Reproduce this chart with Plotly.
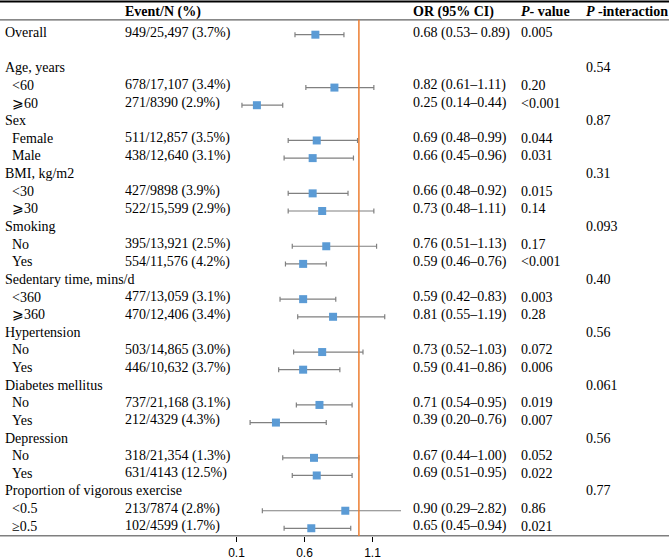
import plotly.graph_objects as go

# ---------------- data ----------------
labels = ["Overall", "", "Age, years", "<60", "⩾60", "Sex", "Female", "Male",
          "BMI, kg/m2", "<30", "⩾30", "Smoking", "No", "Yes",
          "Sedentary time, mins/d", "<360", "⩾360", "Hypertension", "No", "Yes",
          "Diabetes mellitus", "No", "Yes", "Depression", "No", "Yes",
          "Proportion of vigorous exercise", "<0.5", "≥0.5"]
is_sub = [False, False, False, True, True, False, True, True,
          False, True, True, False, True, True,
          False, True, True, False, True, True,
          False, True, True, False, True, True,
          False, True, True]
events = ["949/25,497 (3.7%)", "", "", "678/17,107 (3.4%)", "271/8390 (2.9%)", "",
          "511/12,857 (3.5%)", "438/12,640 (3.1%)", "", "427/9898 (3.9%)",
          "522/15,599 (2.9%)", "", "395/13,921 (2.5%)", "554/11,576 (4.2%)", "",
          "477/13,059 (3.1%)", "470/12,406 (3.4%)", "", "503/14,865 (3.0%)",
          "446/10,632 (3.7%)", "", "737/21,168 (3.1%)", "212/4329 (4.3%)", "",
          "318/21,354 (1.3%)", "631/4143 (12.5%)", "", "213/7874 (2.8%)",
          "102/4599 (1.7%)"]
or_val = [0.68, None, None, 0.82, 0.25, None, 0.69, 0.66, None, 0.66, 0.73, None,
          0.76, 0.59, None, 0.59, 0.81, None, 0.73, 0.59, None, 0.71, 0.39, None,
          0.67, 0.69, None, 0.90, 0.65]
ci_lo = [0.53, None, None, 0.61, 0.14, None, 0.48, 0.45, None, 0.48, 0.48, None,
         0.51, 0.46, None, 0.42, 0.55, None, 0.52, 0.41, None, 0.54, 0.20, None,
         0.44, 0.51, None, 0.29, 0.45]
ci_hi = [0.89, None, None, 1.11, 0.44, None, 0.99, 0.96, None, 0.92, 1.11, None,
         1.13, 0.76, None, 0.83, 1.19, None, 1.03, 0.86, None, 0.95, 0.76, None,
         1.00, 0.95, None, 2.82, 0.94]
or_text = ["0.68 (0.53– 0.89)", "", "", "0.82 (0.61–1.11)", "0.25 (0.14–0.44)", "",
           "0.69 (0.48–0.99)", "0.66 (0.45–0.96)", "", "0.66 (0.48–0.92)",
           "0.73 (0.48–1.11)", "", "0.76 (0.51–1.13)", "0.59 (0.46–0.76)", "",
           "0.59 (0.42–0.83)", "0.81 (0.55–1.19)", "", "0.73 (0.52–1.03)",
           "0.59 (0.41–0.86)", "", "0.71 (0.54–0.95)", "0.39 (0.20–0.76)", "",
           "0.67 (0.44–1.00)", "0.69 (0.51–0.95)", "", "0.90 (0.29–2.82)",
           "0.65 (0.45–0.94)"]
p_value = ["0.005", "", "", "0.20", "<0.001", "", "0.044", "0.031", "", "0.015",
           "0.14", "", "0.17", "<0.001", "", "0.003", "0.28", "", "0.072", "0.006",
           "", "0.019", "0.007", "", "0.052", "0.022", "", "0.86", "0.021"]
p_inter = ["", "", "0.54", "", "", "0.87", "", "", "0.31", "", "", "0.093", "", "",
           "0.40", "", "", "0.56", "", "", "0.061", "", "", "0.56", "", "", "0.77",
           "", ""]
headers = ["Event/N (%)", "OR (95% CI)", "<i>P</i>- value", "<i>P</i> -interaction"]
tick_vals = [0.1, 0.6, 1.1]

# ---------------- layout helpers ----------------
W, H = 669, 560
ROW0, ROWH = 35.0, 17.79          # pixel centre of first row, row height
BOTTOM = 541.0                     # pixel of table bottom line
def row_of(px):
    return (px - ROW0) / ROWH

y_top = row_of(0)
y_bot = row_of(BOTTOM)
FONT = "Liberation Serif"
FS = 14

pts = [i for i, v in enumerate(or_val) if v is not None]
fig = go.Figure()
fig.add_trace(go.Scatter(
    x=[or_val[i] for i in pts], y=[i for i in pts], mode="markers",
    marker=dict(symbol="square", size=8, color="#5B9BD5"),
    error_x=dict(type="data", symmetric=False,
                 array=[ci_hi[i] - or_val[i] for i in pts],
                 arrayminus=[or_val[i] - ci_lo[i] for i in pts],
                 color="#808080", thickness=1.2, width=2.5),
    showlegend=False, hoverinfo="skip"))

ann = []
def px2paper(px):
    return px / W

for i, lab in enumerate(labels):
    yy = i - 0.12
    if lab:
        ann.append(dict(x=px2paper(10 if is_sub[i] else 3), y=yy, text=lab))
    if events[i]:
        ann.append(dict(x=px2paper(123), y=yy, text=events[i]))
    if or_text[i]:
        ann.append(dict(x=px2paper(411), y=yy, text=or_text[i]))
    if p_value[i]:
        ann.append(dict(x=px2paper(519), y=yy, text=p_value[i]))
    if p_inter[i]:
        ann.append(dict(x=px2paper(584), y=yy, text=p_inter[i]))
hy = row_of(12)
for xp, h in zip([123, 411, 519, 584], headers):
    ann.append(dict(x=px2paper(xp), y=hy, text="<b>" + h + "</b>"))
for a in ann:
    a.update(xref="paper", yref="y", xanchor="left", yanchor="middle",
             showarrow=False, font=dict(family=FONT, size=FS, color="black"))

shapes = [
    dict(type="line", xref="paper", yref="y", x0=0, x1=1,
         y0=row_of(1.5), y1=row_of(1.5), line=dict(color="black", width=2)),
    dict(type="line", xref="paper", yref="y", x0=0, x1=1,
         y0=row_of(20), y1=row_of(20), line=dict(color="#606060", width=1.2)),
    dict(type="line", xref="paper", yref="y", x0=0, x1=1,
         y0=y_bot, y1=y_bot, line=dict(color="black", width=1.5)),
    dict(type="line", xref="x", yref="y", x0=1, x1=1,
         y0=row_of(20), y1=y_bot, line=dict(color="#ED7D31", width=1.5)),
]

# forest axis: 0.1 -> px 236.5, 136 px per unit
PXU = 136.0
x_left_px, x_right_px = 215.0, 401.0
def px2val(px):
    return 0.1 + (px - 236.5) / PXU

fig.update_layout(
    width=W, height=H, margin=dict(l=0, r=0, t=0, b=0),
    paper_bgcolor="white", plot_bgcolor="white",
    xaxis=dict(domain=[x_left_px / W, x_right_px / W],
               range=[px2val(x_left_px), px2val(x_right_px)],
               tickvals=tick_vals, ticktext=[str(v) for v in tick_vals],
               ticks="outside", ticklen=5, tickcolor="black", tickwidth=1,
               showgrid=False, zeroline=False, showline=False,
               tickfont=dict(family="Liberation Sans", size=12, color="black")),
    yaxis=dict(domain=[(H - BOTTOM) / H, 1], range=[y_bot, y_top],
               visible=False, showgrid=False, zeroline=False),
    annotations=ann, shapes=shapes,
)

fig.write_html("out.html", config={"displayModeBar": False})
